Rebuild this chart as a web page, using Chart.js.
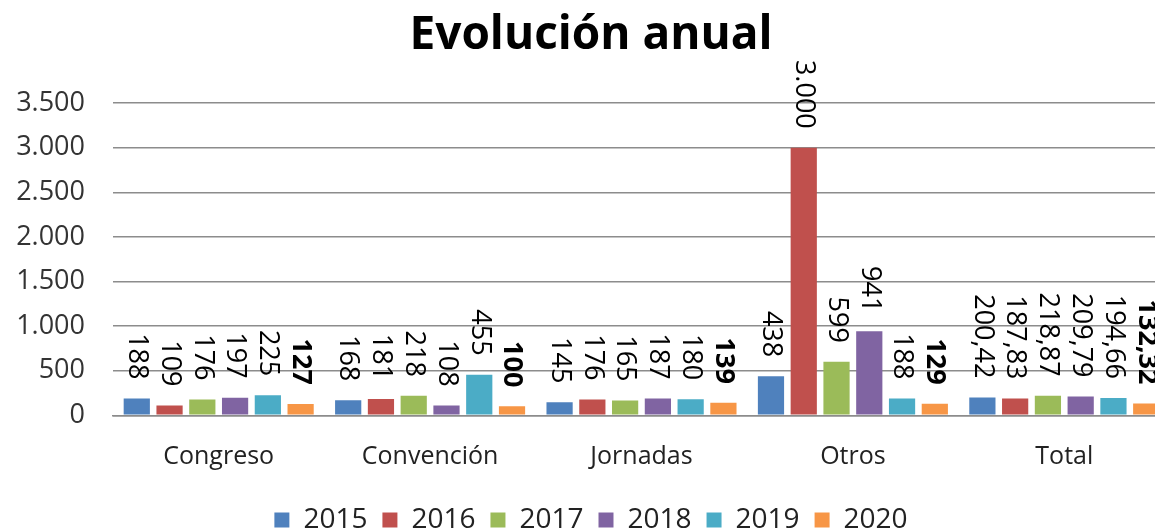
<!DOCTYPE html>
<html>
<head>
<meta charset="utf-8">
<script src="https://cdn.jsdelivr.net/npm/chart.js@4"></script>
<style>
  body { margin: 0; background: #fff; overflow: hidden; }
</style>
</head>
<body>
<canvas id="evolucionChart" width="1175" height="531"></canvas>
<script>
// categories and yearly series
const categories = ['Congreso', 'Convención', 'Jornadas', 'Otros', 'Total'];
const years = ['2015', '2016', '2017', '2018', '2019', '2020'];
const y2015 = [188, 168, 145, 438, 200.42];
const y2016 = [109, 181, 176, 3000, 187.83];
const y2017 = [176, 218, 165, 599, 218.87];
const y2018 = [197, 108, 187, 941, 209.79];
const y2019 = [225, 455, 180, 188, 194.66];
const y2020 = [127, 100, 139, 129, 132.32];
const yTicks = [0, 500, 1000, 1500, 2000, 2500, 3000, 3500];

const series = [y2015, y2016, y2017, y2018, y2019, y2020];
const colors = ['#4F81BD', '#C0504D', '#9BBB59', '#8064A2', '#4BACC6', '#F79646'];
const FONT = "'Open Sans', sans-serif";

// spanish style numbers: 3.000 and 200,42
function fmt(v) {
  const dec = Number.isInteger(v) ? 0 : 2;
  let [ent, frac] = v.toFixed(dec).split('.');
  ent = ent.replace(/\B(?=(\d{3})+(?!\d))/g, '.');
  return frac ? ent + ',' + frac : ent;
}

// rotated value labels above each bar
const barLabels = {
  id: 'barLabels',
  afterDatasetsDraw(chart) {
    const ctx = chart.ctx;
    chart.data.datasets.forEach((ds, i) => {
      const meta = chart.getDatasetMeta(i);
      meta.data.forEach((bar, j) => {
        ctx.save();
        ctx.translate(bar.x, bar.y - 19);
        ctx.rotate(Math.PI / 2);
        ctx.font = (i === 5 ? 'bold ' : '') + '27px ' + FONT;
        ctx.fillStyle = '#000';
        ctx.textAlign = 'right';
        ctx.textBaseline = 'middle';
        ctx.fillText(fmt(ds.data[j]), 0, 0);
        ctx.restore();
      });
    });
  }
};

const ctx = document.getElementById('evolucionChart').getContext('2d');
new Chart(ctx, {
  type: 'bar',
  data: {
    labels: categories,
    datasets: years.map((yr, i) => ({
      label: yr,
      data: series[i],
      backgroundColor: colors[i],
      categoryPercentage: 0.93,
      barPercentage: 0.8
    }))
  },
  options: {
    responsive: false,
    animation: false,
    layout: { padding: { left: 12, right: 5, top: 0, bottom: -13 } },
    plugins: {
      title: {
        display: true,
        text: 'Evolución anual',
        color: '#000',
        font: { family: FONT, size: 46, weight: 'bold' },
        padding: { top: 8, bottom: 40 }
      },
      legend: {
        position: 'bottom',
        labels: {
          color: '#222',
          font: { family: FONT, size: 28, lineHeight: 0.85 },
          boxWidth: 15,
          boxHeight: 15,
          padding: 15
        }
      },
      tooltip: { enabled: false }
    },
    scales: {
      x: {
        grid: { display: false },
        border: { color: '#8c8c8c', width: 1.5 },
        ticks: { color: '#222', font: { family: FONT, size: 25, lineHeight: 0.95 }, padding: 22 }
      },
      y: {
        min: 0,
        max: 3500,
        afterFit: s => { s.width = 101; },
        afterBuildTicks: s => { s.ticks = yTicks.map(v => ({ value: v })); },
        grid: { color: '#8c8c8c', lineWidth: 1.5, drawTicks: false },
        border: { display: false },
        ticks: {
          color: '#333',
          font: { family: FONT, size: 27 },
          padding: 28,
          callback: v => fmt(v)
        }
      }
    }
  },
  plugins: [barLabels]
});
</script>
</body>
</html>
